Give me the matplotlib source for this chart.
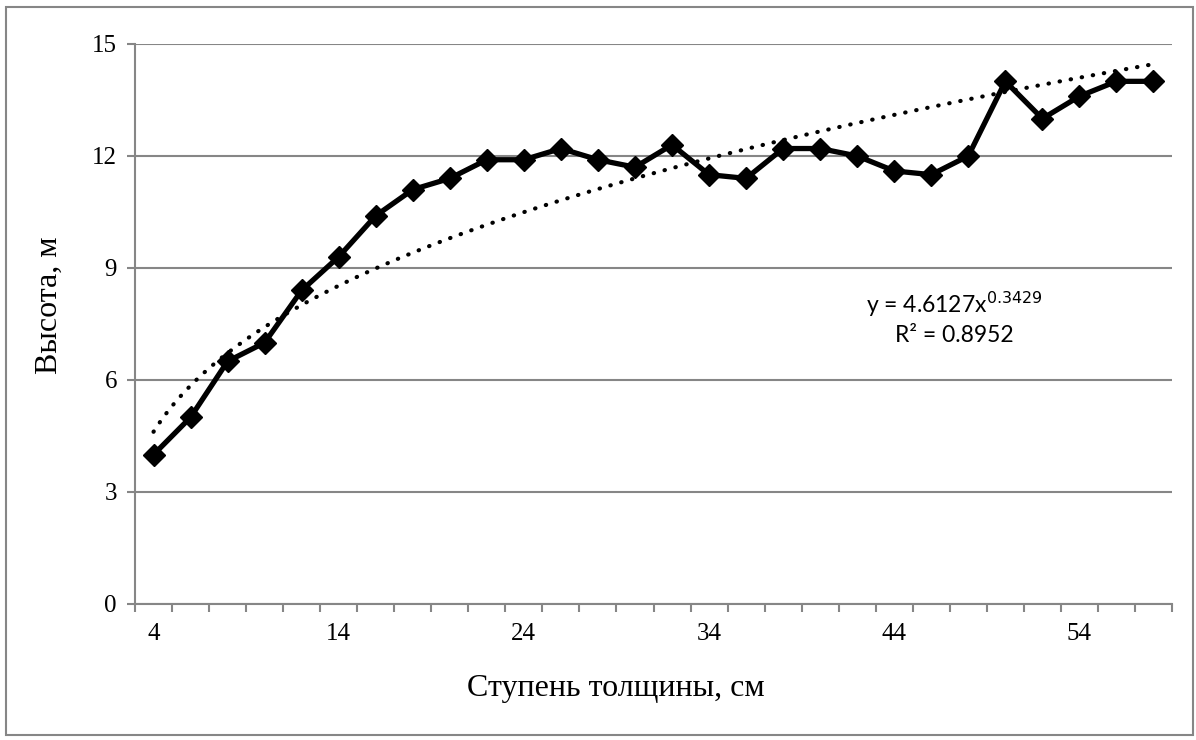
import matplotlib.pyplot as plt
import numpy as np
from matplotlib.patches import Rectangle

# diameter classes (cm) and mean height (m)
stupen = [4, 6, 8, 10, 12, 14, 16, 18, 20, 22, 24, 26, 28, 30,
          32, 34, 36, 38, 40, 42, 44, 46, 48, 50, 52, 54, 56, 58]
vysota = [4.0, 5.0, 6.5, 7.0, 8.4, 9.3, 10.4, 11.1, 11.4, 11.9, 11.9, 12.2, 11.9, 11.7,
          12.3, 11.5, 11.4, 12.2, 12.2, 12.0, 11.6, 11.5, 12.0, 14.0, 13.0, 13.6, 14.0, 14.0]

# power trend coefficients (trend is on category index 1..n)
trend_a = 4.6127
trend_b = 0.3429
trend_r2 = 0.8952

y_ticks = [0, 3, 6, 9, 12, 15]

plt.rcParams['font.family'] = ['Liberation Serif', 'DejaVu Serif']

fig = plt.figure(figsize=(11.96, 7.40), dpi=100)
ax = fig.add_axes([135 / 1196, 1 - 604 / 740, 1037 / 1196, 560 / 740])

n = len(stupen)
idx = np.arange(1, n + 1)

# trend line
xt = np.linspace(1, n, 300)
ax.plot(xt, trend_a * xt ** trend_b, color='black', lw=3,
        linestyle=(0, (0.1, 2.6)), dash_capstyle='round', zorder=3)

ax.plot(idx, vysota, color='black', lw=3.8, marker='D', ms=11.5,
        zorder=4, clip_on=False)

ax.set_xlim(0.5, n + 0.5)
ax.set_ylim(0, 15)

grey = '#868686'
ax.set_yticks(y_ticks)
ax.yaxis.grid(True, color=grey, lw=1.5)
ax.set_axisbelow(True)
for s in ['top', 'right']:
    ax.spines[s].set_visible(False)
for s in ['left', 'bottom']:
    ax.spines[s].set_color(grey)
    ax.spines[s].set_linewidth(1.5)
ax.tick_params(axis='y', direction='out', length=6, width=1.5, color=grey,
               labelsize=18, pad=7)

# category boundaries as ticks, labels every 5th class
ax.set_xticks(np.arange(0.5, n + 1, 1))
ax.set_xticklabels([])
ax.tick_params(axis='x', direction='out', length=6, width=1.5, color=grey)
for i in range(0, n, 5):
    ax.text(idx[i], -0.5, str(stupen[i]), ha='center', va='top',
            fontsize=18, transform=ax.transData)

ax.set_xlabel('Ступень толщины, см', fontsize=23, labelpad=0)
ax.xaxis.set_label_coords(0.464, -0.125)
ax.set_ylabel('Высота, м', fontsize=23)
ax.yaxis.set_label_coords(-0.069, 0.534)

eq = 'y = %.4fx$^{%.4f}$\nR² = %.4f' % (trend_a, trend_b, trend_r2)
ax.text(0.79, 0.511, eq, transform=ax.transAxes, ha='center', va='center',
        fontsize=16.5, family=['Lato', 'DejaVu Sans'], linespacing=1.35)

fig.patches.append(Rectangle((6 / 1196, 5 / 740), 1187 / 1196, 728 / 740,
                             transform=fig.transFigure, fill=False,
                             edgecolor=grey, lw=1.5))

fig.savefig('out.png', dpi=100)
